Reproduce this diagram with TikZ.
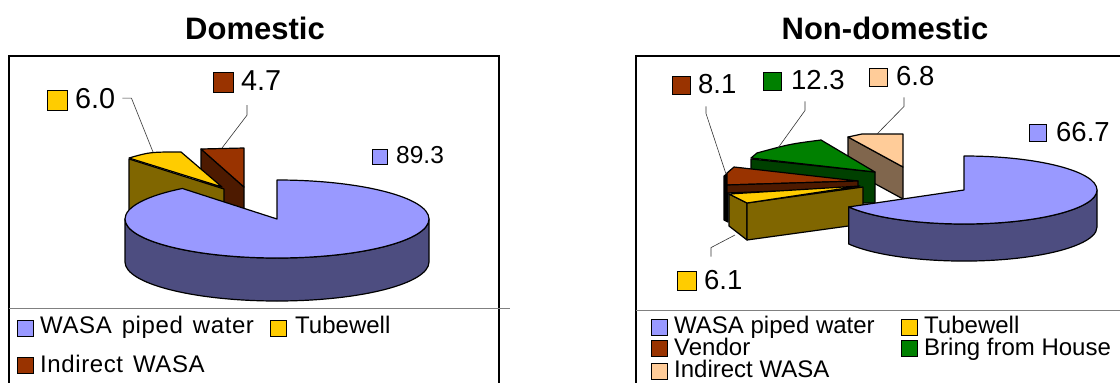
\documentclass[tikz,border=0pt]{standalone}
\usepackage{fontspec}
\setmainfont{Liberation Sans}
\newcommand{\legspace}{\spaceskip 10pt\relax\addfontfeatures{LetterSpace=2.5}}

\begin{document}
\begin{tikzpicture}[x=1pt,y=-1pt]
\definecolor{wasa}{HTML}{9999FF}
\definecolor{wasaside}{HTML}{4D4D80}
\definecolor{tube}{HTML}{FFCC00}
\definecolor{tubeside}{HTML}{806600}
\definecolor{ind}{HTML}{993300}
\definecolor{indside}{HTML}{4D1A00}
\definecolor{house}{HTML}{008000}
\definecolor{houseside}{HTML}{004000}
\definecolor{peach}{HTML}{FFCC99}
\definecolor{peachside}{HTML}{80664D}
\tikzstyle{slice} = [draw=black, line width=1.2pt, line join=round]
\tikzstyle{swatch} = [draw=black, line width=1pt, inner sep=0, minimum size=16pt]
\tikzstyle{lbl} = [inner sep=0, anchor=base west, font=\fontsize{27.5}{30}\selectfont]
\tikzstyle{leader} = [draw=black!80, line width=0.6pt]
\tikzstyle{head} = [inner sep=0, anchor=base, font=\fontsize{31}{36}\selectfont\bfseries]
\tikzstyle{legd} = [inner sep=0, anchor=base west, font=\fontsize{24}{28}\selectfont\legspace]
\tikzstyle{legn} = [inner sep=0, anchor=base west, font=\fontsize{24}{28}\selectfont]

\useasboundingbox (0,0) rectangle (1120,383);

\node[head] (tdom) at (255,39) {Domestic};
\node[head] (tnon) at (885,39) {Non-domestic};

% frames and legend rules
\draw[line width=1.3pt] (9,383) -- (9,56) -- (499,56) -- (499,383);
\draw[line width=1.3pt] (636,383) -- (636,56) -- (1120,56);
\draw[gray, line width=0.9pt] (9,308) -- (510,308);
\draw[gray, line width=0.9pt] (636,310) -- (1120,310);

% domestic pie, back to front
\draw[slice, fill=indside] (201,149) -- (244,187) -- (244,230) -- (201,230) -- cycle;
\draw[slice, fill=ind] (201,149) -- (244,148) -- (244,187) -- cycle;
\draw[slice, fill=tubeside] (129,159) -- (224,189) -- (224,232) -- (129,232) -- cycle;
\draw[slice, fill=tube] (129,158) .. controls (150,152) .. (181,152) -- (222,187) -- cycle;
\draw[slice, fill=wasaside] (125,219) -- (125,262)
  arc[start angle=180, end angle=360, x radius=152pt, y radius=39pt] -- (429,219)
  arc[start angle=0, end angle=-180, x radius=152pt, y radius=39pt] -- cycle;
\draw[slice, fill=wasa] (277,219) -- (277,180)
  arc[start angle=90, end angle=-231.5, x radius=152pt, y radius=39pt] -- cycle;

% non-domestic pie
\draw[slice, fill=peachside] (848,137) -- (903,167) -- (903,199) -- (848,169) -- cycle;
\draw[slice, fill=peach] (848,137) -- (862,134) -- (903,134) -- (903,167) -- cycle;
\draw[slice, fill=houseside] (751,159) -- (875,172) -- (875,203) -- (751,203) -- cycle;
\draw[slice, fill=house] (751,158) -- (757,153) .. controls (790,144) .. (821,140) -- (875,172) -- cycle;
\draw[slice, fill=black] (724,176) -- (728,173) -- (728,222) -- (724,220) -- cycle;
\draw[slice, fill=ind] (727,173) -- (734,167) -- (858,181) -- (727,185) -- cycle;
\draw[slice, fill=indside] (727,185) -- (858,181) -- (858,188) -- (727,193) -- cycle;
\draw[slice, fill=tubeside] (729,194) -- (747,203) -- (747,240) -- (729,226) -- cycle;
\draw[slice, fill=tubeside] (747,203) -- (863,187) -- (863,224) -- (747,240) -- cycle;
\draw[slice, fill=tube] (729,194) -- (860,186) -- (747,203) -- cycle;
\draw[slice, fill=wasaside] (848.7,207) -- (848.7,244)
  arc[start angle=209.9, end angle=360, x radius=133pt, y radius=34pt] -- (1097,190)
  arc[start angle=0, end angle=-150.1, x radius=133pt, y radius=34pt] -- cycle;
\draw[slice, fill=wasa] (964,190) -- (964,156)
  arc[start angle=90, end angle=-150.1, x radius=133pt, y radius=34pt] -- cycle;

% value labels
\node[swatch, fill=tube, minimum size=20pt] (s60) at (57,100) {};
\node[lbl, font=\fontsize{28.8}{30}\selectfont] (t60) at (75,108) {6.0};
\node[swatch, fill=ind, minimum size=20pt] (s47) at (223,82) {};
\node[lbl, font=\fontsize{28.8}{30}\selectfont] (t47) at (241,90) {4.7};
\node[swatch, fill=wasa, minimum size=15pt] (s893) at (380,156.5) {};
\node[lbl, font=\fontsize{24.5}{28}\selectfont] (t893) at (396,163) {89.3};

\node[swatch, fill=ind, minimum size=18pt] (s81) at (681,85) {};
\node[lbl] (t81) at (698,93) {8.1};
\node[swatch, fill=house, minimum size=18pt] (s123) at (772.5,81) {};
\node[lbl] (t123) at (791,89) {12.3};
\node[swatch, fill=peach, minimum size=18pt] (s68) at (878.5,77) {};
\node[lbl] (t68) at (896,85) {6.8};
\node[swatch, fill=tube, minimum size=19pt] (s61) at (687,281) {};
\node[lbl] (t61) at (704,289) {6.1};
\node[swatch, fill=wasa, minimum size=17pt] (s667) at (1037.5,132.5) {};
\node[lbl] (t667) at (1056,141) {66.7};

% leader lines
\coordinate (p60) at (153,152);
\coordinate (p47) at (222,148);
\coordinate (p81) at (726,174);
\coordinate (p123) at (778,148);
\coordinate (p68) at (877,134);
\coordinate (p61) at (735,235);
\draw[leader] ([xshift=7pt]t60.east) -- ++(9,0) -- (p60);
\draw[leader] ([shift={(6,15)}]t47.south west) -- ++(0,10) -- (p47);
\draw[leader] ([shift={(8,13)}]t81.south west) -- ++(0,7) -- (p81);
\draw[leader] ([shift={(14,12)}]t123.south west) -- ++(0,9) -- (p123);
\draw[leader] ([shift={(8,12)}]t68.south west) -- ++(0,9) -- (p68);
\draw[leader] ([shift={(7,-13)}]t61.north west) -- ++(0,-9) -- (p61);

% legends
\node[swatch, fill=wasa] (ld1) at (25,328.5) {};
\node[legd] (ldt1) at (40,333) {WASA piped water};
\node[swatch, fill=tube] (ld2) at (278.5,328.5) {};
\node[legn] (ldt2) at (295,333) {Tubewell};
\node[swatch, fill=ind] (ld3) at (25,365.5) {};
\node[legd] (ldt3) at (40,372) {Indirect WASA};

\node[swatch, fill=wasa] (ln1) at (659.5,327) {};
\node[legn] (lnt1) at (674,333) {WASA piped water};
\node[swatch, fill=tube] (ln2) at (909.5,327) {};
\node[legn] (lnt2) at (924,333) {Tubewell};
\node[swatch, fill=ind] (ln3) at (659.5,348.5) {};
\node[legn] (lnt3) at (674,355) {Vendor};
\node[swatch, fill=house] (ln4) at (909.5,348.5) {};
\node[legn] (lnt4) at (924,355) {Bring from House};
\node[swatch, fill=peach] (ln5) at (659.5,371) {};
\node[legn] (lnt5) at (674,377) {Indirect WASA};

\end{tikzpicture}
\end{document}
